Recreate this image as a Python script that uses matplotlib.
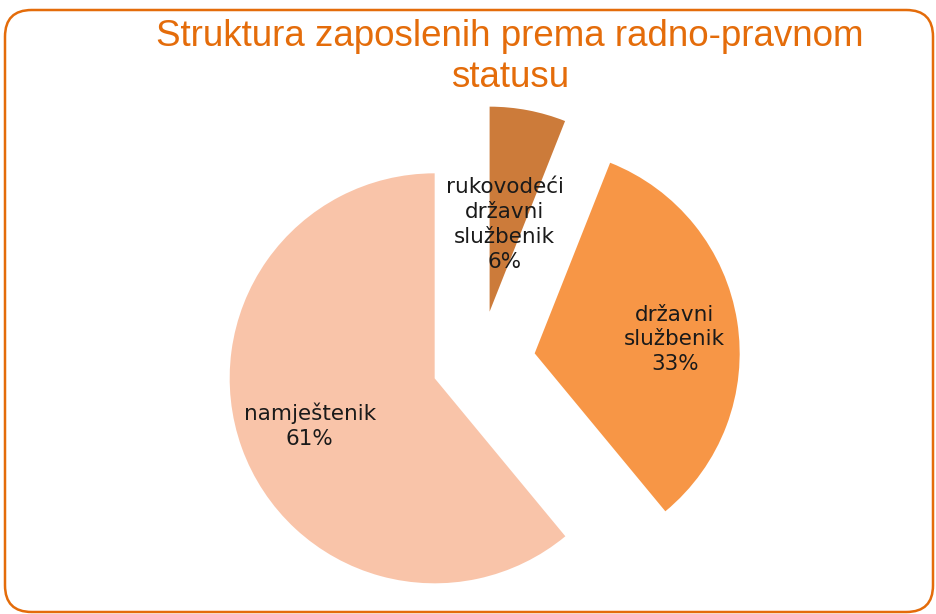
import matplotlib.pyplot as plt
from matplotlib.patches import FancyBboxPatch

# Podaci
kategorije = ['rukovodeći\ndržavni\nslužbenik', 'državni\nslužbenik', 'namještenik']
udjeli = [6, 33, 61]
boje = ['#CC7B3A', '#F79646', '#F9C4A9']
razmak = [0.25, 0.27, 0.235]

naslov = 'Struktura zaposlenih prema radno-pravnom\nstatusu'
narancasta = '#E46C0A'

# pozicije natpisa (u jedinicama polumjera)
poz_natpisa = [(0.12, 0.67), (0.95, 0.11), (-0.83, -0.31)]

W, H = 937, 614
fig = plt.figure(figsize=(W / 100, H / 100), dpi=100)
ax = fig.add_axes([0, 0, 1, 1])

# centar pite i polumjer u pikselima
cx, cy, r = 480, 362, 205

wedges, _ = ax.pie(udjeli, colors=boje, explode=razmak, startangle=90,
                   counterclock=False, radius=1,
                   wedgeprops=dict(linewidth=0))

ax.set_xlim(-cx / r, (W - cx) / r)
ax.set_ylim(-(H - cy) / r, cy / r)
ax.axis('off')

for naziv, u, (x, y) in zip(kategorije, udjeli, poz_natpisa):
    ax.text(x, y, f'{naziv}\n{u}%', ha='center', va='center', fontsize=15.5,
            color='#1a1a1a', linespacing=1.3, family='DejaVu Sans')

# zaobljeni okvir
x0, x1 = (5 - cx) / r, (933 - cx) / r
y1, y0 = (cy - 10) / r, (cy - 612) / r
okvir = FancyBboxPatch((x0, y0), x1 - x0, y1 - y0,
                       boxstyle='round,pad=0,rounding_size=0.13',
                       fill=False, edgecolor=narancasta, linewidth=1.8,
                       clip_on=False)
ax.add_patch(okvir)

fig.text(510 / W, 1 - 57 / H, naslov, ha='center', va='center',
         fontsize=26.5, color=narancasta, family='Liberation Sans',
         linespacing=1.2)

fig.savefig('out.png', dpi=100)
